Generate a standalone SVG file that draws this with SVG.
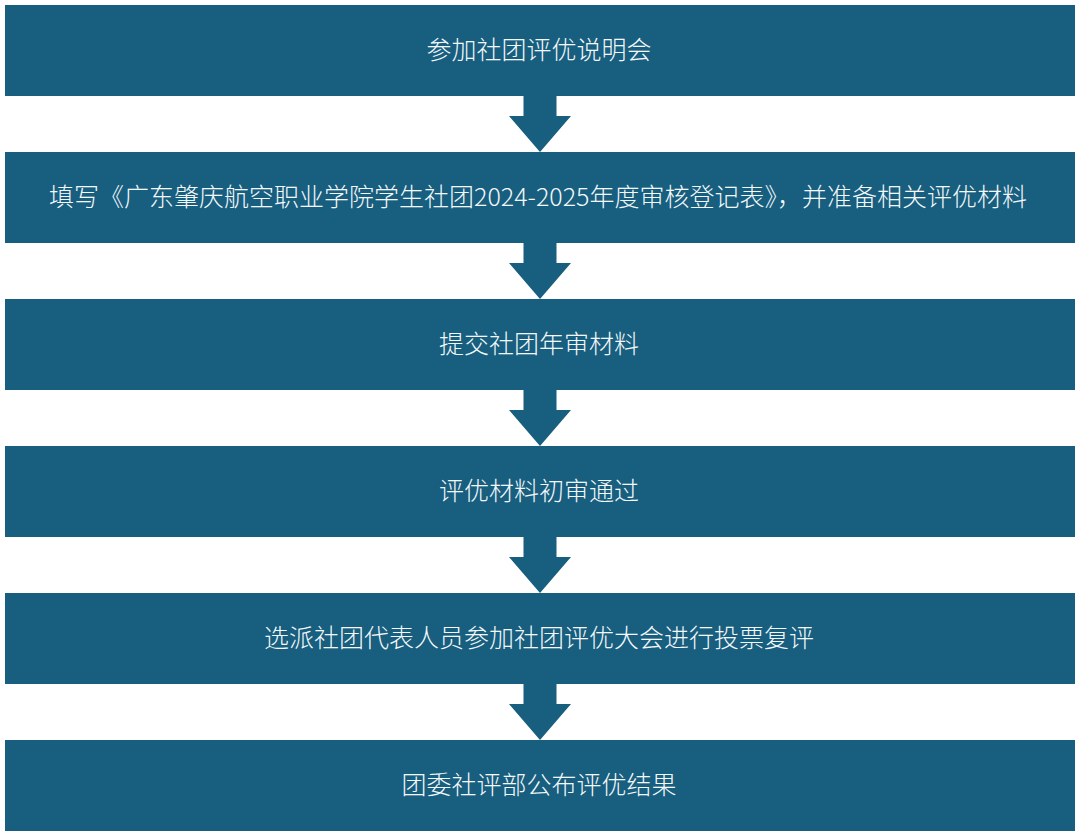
<svg xmlns="http://www.w3.org/2000/svg" width="1080" height="837" viewBox="0 0 1080 837">
<style>
.box{fill:#175E7F}
.arr{fill:#175E7F}
.t{fill:#F4F8FA;font-family:"Noto Sans CJK SC","Noto Sans",sans-serif;font-size:25px;font-weight:300;text-anchor:middle}
</style>
<defs>
<polygon id="arrow" class="arr" points="523.5,0 556.5,0 556.5,20 571,20 540,56 509,20 523.5,20"/>
</defs>
<rect x="0" y="0" width="1080" height="837" fill="#FFFFFF"/>
<g id="connectors">
<use href="#arrow" y="96"/>
<use href="#arrow" y="243"/>
<use href="#arrow" y="390"/>
<use href="#arrow" y="537"/>
<use href="#arrow" y="684"/>
</g>
<g id="n1"><rect class="box" x="5" y="5" width="1070" height="91"/><text class="t" x="539" y="59">参加社团评优说明会</text></g>
<g id="n2"><rect class="box" x="5" y="152" width="1070" height="91"/><text class="t" x="538" y="206">填写《广东肇庆航空职业学院学生社团2024-2025年度审核登记表》，并准备相关评优材料</text></g>
<g id="n3"><rect class="box" x="5" y="299" width="1070" height="91"/><text class="t" x="539" y="353">提交社团年审材料</text></g>
<g id="n4"><rect class="box" x="5" y="446" width="1070" height="91"/><text class="t" x="539" y="500">评优材料初审通过</text></g>
<g id="n5"><rect class="box" x="5" y="593" width="1070" height="91"/><text class="t" x="539" y="647">选派社团代表人员参加社团评优大会进行投票复评</text></g>
<g id="n6"><rect class="box" x="5" y="740" width="1070" height="91"/><text class="t" x="539" y="794">团委社评部公布评优结果</text></g>
</svg>
